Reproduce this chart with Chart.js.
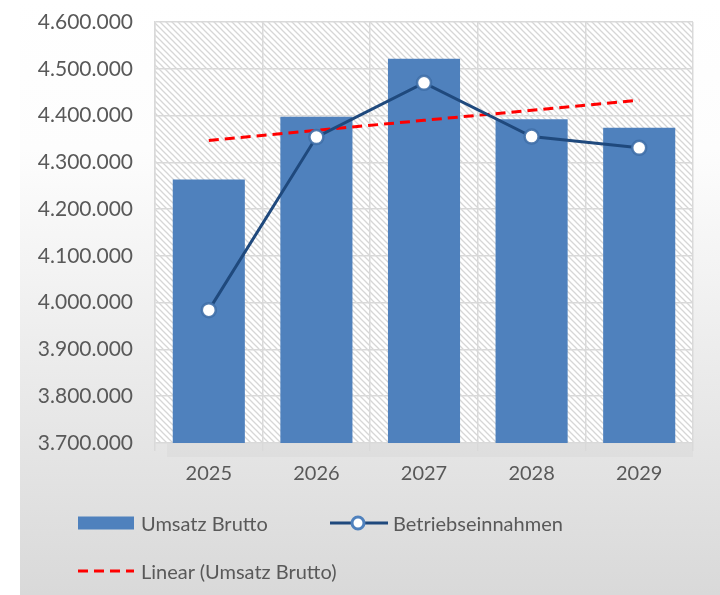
<!DOCTYPE html>
<html>
<head>
<meta charset="utf-8">
<script src="https://cdn.jsdelivr.net/npm/chart.js@4.4.1/dist/chart.umd.min.js"></script>
<style>
  html, body { margin: 0; padding: 0; background: #fff; }
  #wrap { position: relative; width: 720px; height: 595px; overflow: hidden; }
  #bg { position: absolute; left: 20px; top: 0; width: 700px; height: 595px;
        background: linear-gradient(to bottom, #ffffff 0%, #fdfdfd 25%, #ececec 60%, #d9d9d9 100%); }
  #chart { position: absolute; left: 0; top: 0; }
  .lg { position: absolute; font-family: Lato, "Noto Sans", sans-serif; font-size: 20px; color: #595959;
        line-height: 24px; white-space: nowrap; }
  .lg svg { position: absolute; }
</style>
</head>
<body>
<div id="wrap">
  <div id="bg"></div>
  <canvas id="chart" width="720" height="595"></canvas>
  <!-- Legende -->
  <div class="lg" style="left:78px;top:511px;">
    <svg width="56" height="24" style="left:0;top:0"><rect x="0" y="5.5" width="56" height="13" fill="#4F81BD"/></svg>
    <span style="position:absolute;left:63px;top:0">Umsatz Brutto</span>
  </div>
  <div class="lg" style="left:330px;top:511px;">
    <svg width="58" height="24" style="left:0;top:0">
      <line x1="0" y1="12" x2="58" y2="12" stroke="#1F497D" stroke-width="3"/>
      <circle cx="28" cy="12" r="6" fill="#fff" stroke="#4F81BD" stroke-width="3"/>
    </svg>
    <span style="position:absolute;left:63px;top:0">Betriebseinnahmen</span>
  </div>
  <div class="lg" style="left:78px;top:559px;">
    <svg width="56" height="24" style="left:0;top:0">
      <line x1="0" y1="12" x2="56" y2="12" stroke="#FF0000" stroke-width="3" stroke-dasharray="10 6"/>
    </svg>
    <span style="position:absolute;left:63px;top:0">Linear (Umsatz Brutto)</span>
  </div>
</div>
<script>
// Daten
const years = ["2025", "2026", "2027", "2028", "2029"];
const umsatzBrutto = [4263500, 4397500, 4521500, 4392000, 4374000];
const betriebseinnahmen = [3984000, 4354000, 4470000, 4355000, 4331000];
const trendUmsatz = [4346800, 4368300, 4389800, 4411300, 4432800];
const yMin = 3700000, yMax = 4600000, yStep = 100000;

const fmt = n => String(Math.round(n)).replace(/\B(?=(\d{3})+(?!\d))/g, ".");
const FONT = "Lato, 'Noto Sans', sans-serif";

// Schraffur fuer die Zeichenflaeche
function hatch() {
  const s = 6, c = document.createElement("canvas");
  c.width = s; c.height = s;
  const g = c.getContext("2d");
  g.fillStyle = "#fff"; g.fillRect(0, 0, s, s);
  g.strokeStyle = "#d6d6d6"; g.lineWidth = 1.3;
  g.beginPath();
  g.moveTo(0, 0); g.lineTo(s, s);
  g.moveTo(-1, s - 1); g.lineTo(1, s + 1);
  g.moveTo(s - 1, -1); g.lineTo(s + 1, 1);
  g.stroke();
  return c;
}

const plotBg = {
  id: "plotBg",
  beforeDraw(chart) {
    const { ctx, chartArea: a } = chart;
    ctx.save();
    ctx.fillStyle = ctx.createPattern(hatch(), "repeat");
    ctx.fillRect(a.left, a.top, a.right - a.left, a.bottom - a.top);
    // hellgraues Band unter der Flaeche
    ctx.fillStyle = "rgba(200,200,200,0.2)";
    ctx.fillRect(a.left + 12, a.bottom, a.right - a.left - 12, 14);
    ctx.restore();
  }
};

new Chart(document.getElementById("chart"), {
  type: "bar",
  data: {
    labels: years,
    datasets: [
      { type: "line", label: "Betriebseinnahmen", data: betriebseinnahmen, order: 1,
        borderColor: "#1F497D", borderWidth: 3, tension: 0,
        pointRadius: 7, pointBorderWidth: 2.5, pointBackgroundColor: "#fff",
        pointBorderColor: "rgba(63,111,169,0.9)" },
      { type: "line", label: "Linear (Umsatz Brutto)", data: trendUmsatz, order: 2,
        borderColor: "#FF0000", borderWidth: 3, borderDash: [10, 6], pointRadius: 0, tension: 0 },
      { label: "Umsatz Brutto", data: umsatzBrutto, order: 3, backgroundColor: "#4F81BD",
        categoryPercentage: 1, barPercentage: 0.67 }
    ]
  },
  options: {
    responsive: false, animation: false,
    layout: { padding: { top: 22, right: 27, left: 0, bottom: 0 } },
    plugins: { legend: { display: false }, tooltip: { enabled: false } },
    scales: {
      x: {
        afterFit: s => { s.height = 152; },
        grid: { offset: true, color: "#d9d9d9", lineWidth: 1.5, tickLength: 8 },
        border: { display: false },
        ticks: { color: "#595959", font: { family: FONT, size: 20 }, padding: 11 }
      },
      y: {
        min: yMin, max: yMax,
        afterFit: s => { s.width = 155; s.paddingTop = 0; s.paddingBottom = 0; },
        grid: { color: "#d9d9d9", lineWidth: 1.5, drawTicks: false },
        border: { display: true, color: "#d9d9d9", width: 1.5 },
        ticks: { stepSize: yStep, color: "#595959", font: { family: FONT, size: 21 }, padding: 22,
          callback: v => fmt(v) }
      }
    }
  },
  plugins: [plotBg]
});
</script>
</body>
</html>
